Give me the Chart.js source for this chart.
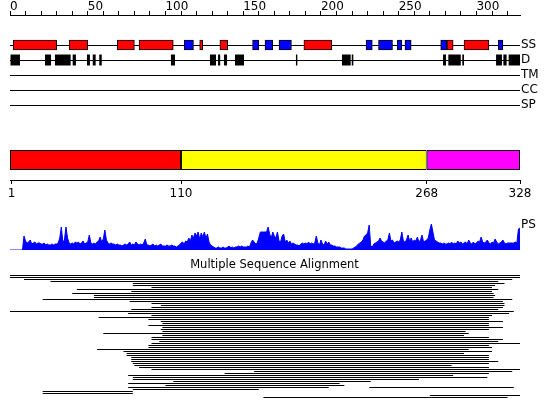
<!DOCTYPE html>
<html>
<head>
<meta charset="utf-8">
<script src="https://cdn.jsdelivr.net/npm/chart.js@4.4.1/dist/chart.umd.min.js"></script>
<style>
  html, body { margin: 0; padding: 0; background: #fff; }
  #wrap { position: relative; width: 550px; height: 419px; }
  #wrap canvas { position: absolute; left: 0; }
</style>
</head>
<body>
<div id="wrap">
  <canvas id="tracks" width="550" height="121" style="top:0"></canvas>
  <canvas id="domains" width="550" height="60" style="top:140px"></canvas>
  <canvas id="profile" width="550" height="36" style="top:215px"></canvas>
  <canvas id="msa" width="550" height="143" style="top:256px"></canvas>
</div>
<script>
// sequence annotation tracks, residue numbers
const SEQ_LENGTH = 328;
const LANES = ['SS', 'D', 'TM', 'CC', 'SP'];

// secondary structure: helix (red) and strand (blue) spans
const HELIX = [[2, 30], [38, 50], [69, 80], [83, 105], [122, 124], [135, 140], [189, 207], [281, 285], [292, 308]];
const STRAND = [[112, 118], [156, 160], [164, 169], [173, 181], [229, 233], [237, 246], [249, 252], [254, 258], [277, 281], [314, 317]];

// disordered regions
const DISORDER = [[0, 6.4], [22.5, 26.4], [28.9, 39], [40.3, 42.4], [49.5, 51.4], [53.2, 55.1], [57.4, 59],
  [103.5, 106.1], [128.6, 132.5], [133.8, 135.2], [137.6, 139.6], [144.7, 150.5], [183.9, 184.8],
  [213.5, 219.1], [219.8, 220.8], [278.5, 280.4], [281.9, 289.9], [290.9, 292], [312.6, 316.4],
  [317.3, 319.4], [320.7, 328]];

// domain boundaries and the ticks printed under them
const DOMAIN_BOUNDS = [0, 110, 268, 328];
const DOMAIN_COLORS = ['#ff0000', '#ffff00', '#ff00ff'];
const DOMAIN_TICKS = [1, 110, 268, 328];

// PS profile, one value per residue (0..328)
const PS_VALUES = [
  0, 0, 0, 0, 0, 0, 0, 0, 0,
  14, 9, 7, 8, 10, 6, 7, 8, 6, 7, 7, 6, 6, 7, 5, 6, 5, 5, 6, 5,
  6, 6, 7, 12, 23, 8, 10, 23, 12, 7, 6, 7, 6, 8, 7, 8, 6, 7, 9, 6,
  7, 8, 15, 7, 6, 7, 6, 8, 9, 13, 8, 11, 20, 10, 7, 6, 7, 6, 6, 5,
  6, 5, 5, 4, 5, 6, 5, 6, 8, 5, 6, 5, 8, 6, 5, 6, 5, 7, 11, 5,
  5, 4, 5, 6, 4, 5, 4, 5, 6, 4, 4, 4, 5, 4, 4, 5, 4, 4, 3, 4,
  5, 7, 8, 6, 9, 8, 12, 9, 15, 12, 17, 14, 18, 11, 17, 13, 18, 12, 16, 8,
  5, 4, 3, 2, 2, 3, 2, 2, 3, 2, 2, 3, 4, 2, 3, 2, 3, 3, 4, 3,
  4, 3, 3, 3, 4, 3, 7, 10, 8, 6, 7, 12, 18, 18, 18, 18, 18, 23, 16, 12,
  18, 14, 12, 18, 9, 8, 14, 16, 8, 10, 7, 9, 6, 7, 6, 5, 5, 4, 6, 7,
  6, 7, 6, 8, 6, 7, 6, 7, 14, 7, 5, 10, 6, 5, 9, 6, 8, 5, 5, 4,
  4, 3, 3, 3, 2, 2, 2, 1, 1, 1, 1, 1, 2, 3, 4, 6, 7, 8, 10, 14,
  15, 17, 25, 4, 3, 6, 7, 8, 9, 12, 9, 8, 7, 9, 10, 17, 9, 10, 7, 8,
  9, 8, 10, 18, 9, 8, 10, 15, 9, 12, 8, 10, 9, 13, 8, 10, 15, 8, 9, 10,
  12, 20, 26, 18, 10, 9, 8, 7, 7, 6, 7, 6, 6, 7, 6, 8, 6, 7, 6, 9,
  7, 8, 6, 7, 8, 6, 10, 7, 6, 8, 6, 7, 9, 8, 13, 8, 7, 8, 10, 7,
  6, 8, 7, 11, 8, 6, 7, 8, 10, 7, 6, 7, 7, 7, 7, 7, 8, 7, 21, 22
];

// alignment hits, one row per sequence, each a list of [start, end] spans
const MSA_ROWS = [
  [[0, 328]], [[0, 328]], [[9, 323]], [[26, 314]], [[79, 318]], [[79, 312]], [[91, 310]], [[43, 314]],
  [[78, 310]], [[40, 311]], [[54, 312]], [[54, 311]], [[21, 323]], [[77, 317]], [[91, 318]], [[97, 318]],
  [[91, 317]], [[78, 314]], [[0, 324]], [[76, 321]], [[91, 310]], [[57, 308]], [[89, 308]], [[97, 317]],
  [[98, 308]], [[89, 308]], [[98, 317]], [[97, 308]], [[98, 293]], [[60, 295]], [[98, 292]], [[91, 308]],
  [[91, 317]], [[96, 314]], [[91, 328]], [[89, 308]], [[89, 310]], [[56, 295]], [[73, 310]], [[75, 292]],
  [[75, 308]], [[78, 308]], [[78, 308]], [[78, 314]], [[79, 308]], [[80, 284]], [[83, 308]], [[91, 328]],
  [[157, 323]], [[138, 308]], [[76, 285]], [[79, 307]], [[79, 263]], [[105, 232]], [[76, 212]], [[100, 215]],
  [[76, 205], [231, 324]], [[79, 160]], [[21, 79]], [[21, 79]], [[270, 328]], [[163, 320]]
];

Chart.defaults.font.family = '"DejaVu Sans", sans-serif';
Chart.defaults.font.size = 12;
Chart.defaults.color = '#000';
Chart.defaults.animation = false;
Chart.defaults.plugins.legend.display = false;
Chart.defaults.plugins.tooltip.enabled = false;

const residueAxis = { type: 'linear', min: 0, max: SEQ_LENGTH };

// fixed-width side axis that does not push the plot area in for its labels
const sideAxisFit = w => s => { s.width = w; s.paddingTop = 0; s.paddingBottom = 0; };

// --- tracks: ruler, SS, D, TM, CC, SP ---
const spans = (list, lane) => list.map(([a, b]) => ({ x: [a, b], y: lane }));

new Chart(document.getElementById('tracks'), {
  type: 'bar',
  data: {
    datasets: [
      { data: spans(HELIX, 1), backgroundColor: '#ff0000', borderColor: '#000', borderWidth: 1,
        borderSkipped: false, barThickness: 10, grouped: false },
      { data: spans(STRAND, 1), backgroundColor: '#0000ff', borderColor: '#000', borderWidth: 1,
        borderSkipped: false, barThickness: 10, grouped: false },
      { data: spans(DISORDER, 2), backgroundColor: '#000', borderWidth: 0,
        barThickness: 11, grouped: false, inflateAmount: 0 }
    ]
  },
  options: {
    responsive: false,
    indexAxis: 'y',
    layout: { padding: { left: 10, right: 0, top: 0, bottom: 1 } },
    scales: {
      x: {
        ...residueAxis,
        position: 'top',
        afterFit: s => { s.height = 15; },
        ticks: { stepSize: 10, includeBounds: false, autoSkip: false, maxRotation: 0,
          align: 'start', padding: -3, callback: v => (v % 50 === 0 ? String(v) : '') },
        grid: { drawOnChartArea: false, tickLength: 4, color: '#000' },
        border: { color: '#000', width: 1 }
      },
      y: {
        type: 'linear', position: 'right', reverse: true, min: -1, max: 6, offset: false,
        afterBuildTicks: s => { s.ticks = LANES.map((_, i) => ({ value: i + 1 })); },
        afterFit: sideAxisFit(30),
        ticks: { padding: 1, callback: v => LANES[v - 1] },
        grid: { offset: false, color: '#000', drawTicks: false },
        border: { display: false }
      }
    }
  }
});

// --- domain bar with its boundary ruler ---
new Chart(document.getElementById('domains'), {
  type: 'bar',
  data: {
    datasets: [{
      data: DOMAIN_COLORS.map((_, i) => ({ x: [DOMAIN_BOUNDS[i], DOMAIN_BOUNDS[i + 1]], y: 0 })),
      backgroundColor: DOMAIN_COLORS, borderColor: '#000', borderWidth: 1, borderSkipped: false,
      barThickness: 20, inflateAmount: 0
    }]
  },
  options: {
    responsive: false,
    indexAxis: 'y',
    layout: { padding: { left: 10, right: 30, top: 0, bottom: 0 } },
    scales: {
      x: {
        ...residueAxis,
        position: 'bottom',
        afterFit: s => { s.height = 20; },
        afterBuildTicks: s => { s.ticks = DOMAIN_TICKS.map(v => ({ value: v })); },
        ticks: { autoSkip: false, maxRotation: 0, padding: 3 },
        grid: { drawOnChartArea: false, tickLength: 4, color: '#000' },
        border: { color: '#000', width: 1 }
      },
      y: { type: 'linear', min: -1, max: 1, display: false, offset: false }
    }
  }
});

// --- PS profile ---
new Chart(document.getElementById('profile'), {
  type: 'line',
  data: {
    datasets: [{
      data: PS_VALUES.map((v, i) => ({ x: i, y: v })),
      borderColor: '#0000ff', backgroundColor: '#0000ff', borderWidth: 1,
      fill: 'origin', pointRadius: 0, tension: 0
    }]
  },
  options: {
    responsive: false,
    layout: { padding: { left: 10, right: 0, top: 5, bottom: 1 } },
    scales: {
      x: { ...residueAxis, display: false },
      y: {
        type: 'linear', position: 'right', min: 0, max: 30,
        afterBuildTicks: s => { s.ticks = [{ value: 25 }]; },
        afterFit: sideAxisFit(30),
        ticks: { padding: 1, callback: () => 'PS' },
        grid: { display: false, drawTicks: false },
        border: { display: false }
      }
    }
  }
});

// --- multiple sequence alignment ---
const msaSpans = [];
MSA_ROWS.forEach((row, r) => row.forEach(([a, b]) => msaSpans.push({ x: [a, b], y: r })));

new Chart(document.getElementById('msa'), {
  type: 'bar',
  data: {
    datasets: [{
      data: msaSpans, backgroundColor: '#000', borderWidth: 0, barThickness: 1, inflateAmount: 0
    }]
  },
  options: {
    responsive: false,
    indexAxis: 'y',
    layout: { padding: { left: 10, right: 11, top: 0, bottom: 0 } },
    plugins: {
      title: {
        display: true, text: 'Multiple Sequence Alignment', color: '#000',
        font: { size: 11.5, weight: 'normal', lineHeight: '14px' },
        padding: { top: 2, bottom: 3 }
      }
    },
    scales: {
      x: { ...residueAxis, display: false },
      y: {
        type: 'linear', position: 'right', reverse: true, offset: false,
        min: -0.25, max: MSA_ROWS.length - 0.25,
        afterFit: sideAxisFit(19),
        ticks: { display: false },
        grid: { display: false },
        border: { display: false }
      }
    }
  }
});
</script>
</body>
</html>
